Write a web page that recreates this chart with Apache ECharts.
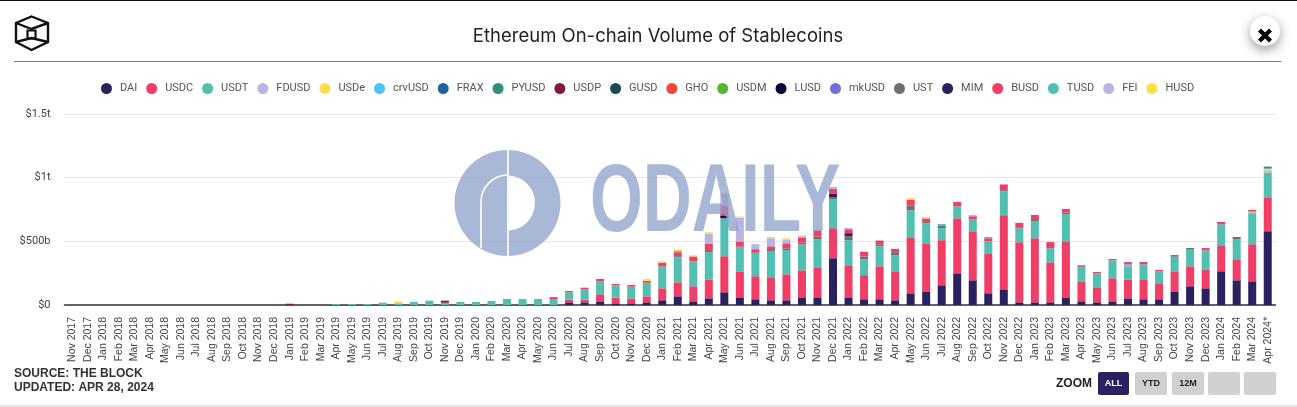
<!DOCTYPE html>
<html>
<head>
<meta charset="utf-8">
<title>Ethereum On-chain Volume of Stablecoins</title>
<script src="https://cdn.jsdelivr.net/npm/echarts@6/dist/echarts.min.js"></script>
<style>
html, body { margin: 0; padding: 0; background: #fff; }
#chart { width: 1297px; height: 407px; }
</style>
</head>
<body>
<div id="chart"></div>
<script>
const months = ['Jan', 'Feb', 'Mar', 'Apr', 'May', 'Jun', 'Jul', 'Aug', 'Sep', 'Oct', 'Nov', 'Dec'];
const categories = ['Nov 2017', 'Dec 2017'];
[2018, 2019, 2020, 2021, 2022, 2023].forEach(function (y) {
  months.forEach(function (m) { categories.push(m + ' ' + y); });
});
categories.push('Jan 2024', 'Feb 2024', 'Mar 2024', 'Apr 2024*');

const yTicks = ['$0', '$500b', '$1t', '$1.5t'];

// values in $ billions, one line per year (first line is Nov 2017 - Dec 2018)
const DAI = [0,0,0,0,0,0,0,0,0,0,0,0,0,0,
  0,0,0,0,0,0,0,0,0,0,0,0,
  0,0,0,0,0,0,21,21,29,13,13,21,
  37,68,29,52,100,60,45,37,37,60,60,367,
  60,45,45,37,92,107,155,249,194,92,123,21,
  21,21,60,29,21,29,52,45,45,107,147,131,
  265,194,186,579];
const USDC = [0,0,0,0,0,0,0,0,0,0,0,0,0,0,
  0,0,0,0,0,0,0,0,0,0,0,0,
  0,0,0,0,0,0,21,21,55,45,39,47,
  94,110,118,149,283,204,181,181,204,212,236,236,
  252,189,259,228,440,377,354,432,385,314,582,472,
  503,314,440,157,118,181,149,157,126,157,157,149,
  204,165,291,267];
const USDT = [0,0,0,0,0,0,0,0,0,0,0,0,0,0,
  0,0,0,8,8,8,18,13,24,34,18,24,
  24,31,47,47,47,47,58,81,102,97,92,107,
  173,197,197,212,299,191,178,204,191,204,220,228,
  197,126,157,126,212,157,94,94,94,94,189,110,
  134,110,215,110,110,141,102,118,94,115,131,149,
  165,157,244,194];
const FDUSD = [0,0,0,0,0,0,0,0,0,0,0,0,0,0,
  0,0,0,0,0,0,0,0,0,0,0,0,
  0,0,0,0,0,0,0,0,0,0,0,0,
  0,0,0,0,0,0,0,0,0,0,0,0,
  0,0,0,0,0,0,0,0,0,0,0,0,
  0,0,0,0,0,0,0,0,0,0,0,0,
  0,0,13,18];
const USDe = [0,0,0,0,0,0,0,0,0,0,0,0,0,0,
  0,0,0,0,0,0,0,0,0,0,0,0,
  0,0,0,0,0,0,0,0,0,0,0,0,
  0,0,0,0,0,0,0,0,0,0,0,0,
  0,0,0,0,0,0,0,0,0,0,0,0,
  0,0,0,0,0,0,0,0,0,0,0,0,
  0,0,0,13];
const crvUSD = [0,0,0,0,0,0,0,0,0,0,0,0,0,0,
  0,0,0,0,0,0,0,0,0,0,0,0,
  0,0,0,0,0,0,0,0,0,0,0,0,
  0,0,0,0,0,0,0,0,0,0,0,0,
  0,0,0,0,0,0,0,0,0,0,0,0,
  0,0,0,0,0,0,16,0,0,0,0,0,
  0,0,0,0];
const FRAX = [0,0,0,0,0,0,0,0,0,0,0,0,0,0,
  0,0,0,0,0,0,0,0,0,0,0,0,
  0,0,0,0,0,0,0,0,0,0,0,0,
  0,0,0,0,0,0,0,0,0,0,0,0,
  0,0,0,0,0,0,0,0,0,0,0,0,
  0,0,0,0,0,0,0,0,0,0,0,0,
  0,0,0,0];
const PYUSD = [0,0,0,0,0,0,0,0,0,0,0,0,0,0,
  0,0,0,0,0,0,0,0,0,0,0,0,
  0,0,0,0,0,0,0,0,0,0,0,0,
  0,0,0,0,0,0,0,0,0,0,0,0,
  0,0,0,0,0,0,0,0,0,0,0,0,
  0,0,0,0,0,0,0,0,0,0,0,0,
  0,0,0,16];
const USDP = [0,0,0,0,0,0,0,0,0,0,0,0,0,0,
  10,0,0,0,0,0,0,0,0,0,16,0,
  0,0,0,0,0,0,0,0,0,0,0,0,
  0,0,0,0,0,0,0,0,0,0,0,0,
  0,0,0,0,0,0,0,0,0,0,0,0,
  0,0,0,0,0,0,0,0,0,0,0,0,
  0,0,0,0];
const GUSD = [0,0,0,0,0,0,0,0,0,0,0,0,0,0,
  0,0,0,0,0,0,0,0,0,0,0,0,
  0,0,0,0,0,0,0,0,0,0,0,0,
  0,0,0,0,0,0,0,0,0,0,0,0,
  0,0,0,0,0,0,0,0,0,0,0,0,
  0,0,0,0,0,0,0,0,0,0,0,0,
  0,0,0,0];
const GHO = [0,0,0,0,0,0,0,0,0,0,0,0,0,0,
  0,0,0,0,0,0,0,0,0,0,0,0,
  0,0,0,0,0,0,0,0,0,0,0,0,
  0,0,0,0,0,0,0,0,0,0,0,0,
  0,0,0,0,0,0,0,0,0,0,0,0,
  0,0,0,0,0,0,0,0,0,0,0,0,
  0,0,13,0];
const USDM = [0,0,0,0,0,0,0,0,0,0,0,0,0,0,
  0,0,0,0,0,0,0,0,0,0,0,0,
  0,0,0,0,0,0,0,0,0,0,0,0,
  0,0,0,0,0,0,0,0,0,0,0,0,
  0,0,0,0,0,0,0,0,0,0,0,0,
  0,0,0,0,0,0,0,0,0,0,0,0,
  0,0,0,0];
const LUSD = [0,0,0,0,0,0,0,0,0,0,0,0,0,0,
  0,0,0,0,0,0,0,0,0,0,0,0,
  0,0,0,0,0,0,0,0,0,0,0,0,
  0,0,0,0,21,0,0,0,0,0,0,0,
  0,0,0,0,0,0,0,0,0,0,0,0,
  0,0,0,0,0,0,0,0,0,0,0,0,
  0,0,0,0];
const mkUSD = [0,0,0,0,0,0,0,0,0,0,0,0,0,0,
  0,0,0,0,0,0,0,0,0,0,0,0,
  0,0,0,0,0,0,0,0,0,0,0,0,
  0,0,0,0,0,0,0,0,0,0,0,0,
  0,0,0,0,0,0,0,0,0,0,0,0,
  0,0,0,0,0,0,0,0,0,0,0,0,
  0,0,0,0];
const UST = [0,0,0,0,0,0,0,0,0,0,0,0,0,0,
  0,0,0,0,0,0,0,0,0,0,0,0,
  0,0,0,0,0,0,0,0,0,0,0,0,
  0,8,0,18,0,5,10,10,13,13,21,16,
  31,21,16,24,39,10,18,0,0,0,8,8,
  10,10,10,8,0,0,0,0,0,13,13,0,
  0,18,0,0];
const MIM = [0,0,0,0,0,0,0,0,0,0,0,0,0,0,
  0,0,0,0,0,0,0,0,0,0,0,0,
  0,0,0,0,0,0,0,0,0,0,0,0,
  0,0,0,0,0,0,0,0,0,0,0,26,
  24,0,0,0,0,0,0,0,0,0,0,0,
  0,0,0,0,0,0,0,0,0,0,0,0,
  0,0,0,0];
const BUSD = [0,0,0,0,0,0,0,0,0,0,0,0,0,0,
  0,0,0,0,0,0,0,0,0,0,0,0,
  0,0,0,0,0,15,10,13,18,10,13,15,
  29,31,37,52,79,39,24,29,39,42,47,39,
  31,37,29,26,45,29,5,34,24,24,45,34,
  39,39,29,8,10,10,18,18,10,0,0,18,
  18,0,0,0];
const TUSD = [0,0,0,0,0,0,0,0,0,0,0,0,0,0,
  0,0,0,0,0,0,0,0,0,0,0,0,
  0,0,0,0,0,0,0,0,0,0,0,0,
  0,11,0,0,0,0,0,0,0,0,0,0,
  0,0,0,0,0,0,10,0,0,10,0,0,
  0,0,0,0,0,0,0,0,0,0,0,0,
  0,0,0,0];
const FEI = [0,0,0,0,0,0,0,0,0,0,0,0,0,0,
  0,0,0,0,0,0,0,0,0,0,0,0,
  0,0,0,0,0,0,0,0,0,0,0,0,
  0,0,0,76,92,186,39,63,31,8,10,16,
  10,0,0,0,0,0,0,0,10,0,0,0,
  0,0,0,0,0,0,0,0,0,0,0,0,
  0,0,0,0];
const HUSD = [0,0,0,0,0,0,0,0,0,0,0,0,0,0,
  0,0,0,0,0,0,0,16,0,0,0,0,
  0,0,0,0,0,0,0,0,0,0,0,14,
  10,10,10,13,8,10,0,10,8,10,0,0,
  0,0,0,0,13,10,0,0,0,0,0,0,
  0,0,0,0,0,0,0,0,0,0,0,0,
  0,0,0,0];

const stableNames = ['DAI', 'USDC', 'USDT', 'FDUSD', 'USDe', 'crvUSD', 'FRAX', 'PYUSD', 'USDP', 'GUSD', 'GHO', 'USDM', 'LUSD', 'mkUSD', 'UST', 'MIM', 'BUSD', 'TUSD', 'FEI', 'HUSD'];
const stableValues = [DAI, USDC, USDT, FDUSD, USDe, crvUSD, FRAX, PYUSD, USDP, GUSD, GHO, USDM, LUSD, mkUSD, UST, MIM, BUSD, TUSD, FEI, HUSD];
const stableColors = ['#2a2160', '#f03e67', '#52bfb3', '#b9b4e2', '#ffdc4a', '#4cc3f5', '#1f639f', '#358b7c', '#7e1a3c', '#184a50', '#f4473a', '#53b72e', '#05053a', '#736dd6', '#6e6e72', '#2a2160', '#f03e67', '#52bfb3', '#b9b4e2', '#ffdc4a'];

const chart = echarts.init(document.getElementById('chart'));
const wm = 'rgba(140,160,200,0.75)';

function zoomButton(x, w, label, bg, color) {
  const items = [{
    type: 'rect', shape: { x: x, y: 372, width: w, height: 23, r: 2 },
    style: { fill: bg }
  }];
  if (label) {
    items.push({
      type: 'text', x: x + w / 2, y: 384,
      style: { text: label, font: 'bold 9px "Liberation Sans"', fill: color, align: 'center', verticalAlign: 'middle' }
    });
  }
  return items;
}

const option = {
  animation: false,
  color: stableColors,
  title: {
    text: 'Ethereum On-chain Volume of Stablecoins',
    left: 653, top: 22, textAlign: 'center',
    textStyle: { fontFamily: 'Inter', fontSize: 18.5, fontWeight: 400, color: '#222' }
  },
  legend: {
    left: 96, top: 78, icon: 'circle', itemWidth: 11, itemHeight: 11, itemGap: 8.9,
    selectedMode: false,
    textStyle: { fontFamily: 'Roboto', fontSize: 11, color: '#555', padding: [0, 0, 0, 3] },
    data: stableNames.map(function (n, i) { return { name: n, itemStyle: { color: stableColors[i] } }; })
  },
  grid: { left: 64.5, right: 21.5, top: 114, bottom: 102 },
  xAxis: {
    type: 'category', data: categories,
    axisTick: { show: false },
    axisLine: { lineStyle: { color: '#333', width: 1.5 } },
    axisLabel: { interval: 0, rotate: 90, fontFamily: 'Liberation Sans', fontSize: 10.5, color: '#444', margin: 12 }
  },
  yAxis: {
    type: 'value', min: 0, max: 1500, interval: 500,
    axisLine: { show: false }, axisTick: { show: false },
    splitLine: { lineStyle: { color: '#e6e6e6', width: 1 } },
    axisLabel: {
      fontFamily: 'Roboto', fontSize: 11, color: '#444', margin: 14,
      formatter: function (v) { return yTicks[v / 500]; }
    }
  },
  series: stableNames.map(function (n, i) {
    return { name: n, type: 'bar', stack: 'total', barWidth: 8, data: stableValues[i] };
  }),
  graphic: [
    // page frame
    { type: 'rect', shape: { x: 0, y: 0, width: 1297, height: 1 }, style: { fill: '#0c0a1e' } },
    { type: 'rect', shape: { x: 0, y: 405, width: 1297, height: 2 }, style: { fill: '#e6e6e6' } },
    { type: 'rect', shape: { x: 14, y: 61, width: 1267, height: 1 }, style: { fill: '#9a5bdc' } },
    // logo
    { type: 'polygon', shape: { points: [[31.5, 16.5], [48, 23], [48, 42], [31.5, 50], [16, 42], [16, 23]] }, style: { fill: 'none', stroke: '#111', lineWidth: 2.4 } },
    { type: 'rect', shape: { x: 27.5, y: 30.5, width: 8, height: 8 }, style: { fill: 'none', stroke: '#111', lineWidth: 2.2 } },
    { type: 'polyline', shape: { points: [[16, 23], [31.5, 29], [48, 23]] }, style: { fill: 'none', stroke: '#111', lineWidth: 2.4 } },
    { type: 'polyline', shape: { points: [[16, 42], [31.5, 38], [48, 42]] }, style: { fill: 'none', stroke: '#111', lineWidth: 2.4 } },
    // close button
    { type: 'circle', shape: { cx: 1265, cy: 31, r: 15 }, style: { fill: '#fff', shadowBlur: 12, shadowColor: 'rgba(0,0,0,0.4)', shadowOffsetY: 4 } },
    { type: 'polyline', shape: { points: [[1259.5, 30], [1270.5, 41]] }, style: { stroke: '#000', lineWidth: 4.2 } },
    { type: 'polyline', shape: { points: [[1270.5, 30], [1259.5, 41]] }, style: { stroke: '#000', lineWidth: 4.2 } },
    // footer
    { type: 'text', x: 14, y: 374, style: { text: 'SOURCE: THE BLOCK', font: 'bold 12px "Liberation Sans"', fill: '#333', verticalAlign: 'middle' } },
    { type: 'text', x: 14, y: 388, style: { text: 'UPDATED: APR 28, 2024', font: 'bold 12px "Liberation Sans"', fill: '#333', verticalAlign: 'middle' } },
    { type: 'text', x: 1092, y: 384, style: { text: 'ZOOM', font: 'bold 12px "Liberation Sans"', fill: '#222', align: 'right', verticalAlign: 'middle' } }
  ].concat(
    zoomButton(1098, 31, 'ALL', '#2a2160', '#fff'),
    zoomButton(1135, 32, 'YTD', '#d0d0d0', '#222'),
    zoomButton(1172, 32, '12M', '#d0d0d0', '#222'),
    zoomButton(1208, 32, '', '#d0d0d0', '#222'),
    zoomButton(1244, 32, '', '#d0d0d0', '#222'),
    [
      // watermark sits above the bars, the gaps are the logo's slits
      { type: 'sector', z: 100, shape: { cx: 507.5, cy: 203, r0: 27.5, r: 53, startAngle: -Math.PI / 2, endAngle: Math.PI / 2 }, style: { fill: wm } },
      { type: 'sector', z: 100, shape: { cx: 507.5, cy: 203, r0: 0, r: 53, startAngle: Math.PI / 2, endAngle: Math.PI * 1.5 }, style: { fill: wm } },
      { type: 'polyline', z: 101, shape: { points: [[508, 150], [508, 256]] }, style: { stroke: '#fff', lineWidth: 1.6 } },
      { type: 'arc', z: 101, shape: { cx: 508, cy: 202, r: 27, startAngle: Math.PI, endAngle: Math.PI * 1.5 }, style: { stroke: '#fff', lineWidth: 1.6, fill: 'none' } },
      { type: 'polyline', z: 101, shape: { points: [[481, 202], [481, 248]] }, style: { stroke: '#fff', lineWidth: 1.6 } },
      { type: 'text', z: 100, x: 590, y: 204, scaleX: 0.7, style: { text: 'ODAILY', font: 'bold 97px "Liberation Sans"', fill: wm, verticalAlign: 'middle' } }
    ]
  )
};
chart.setOption(option);
</script>
</body>
</html>
